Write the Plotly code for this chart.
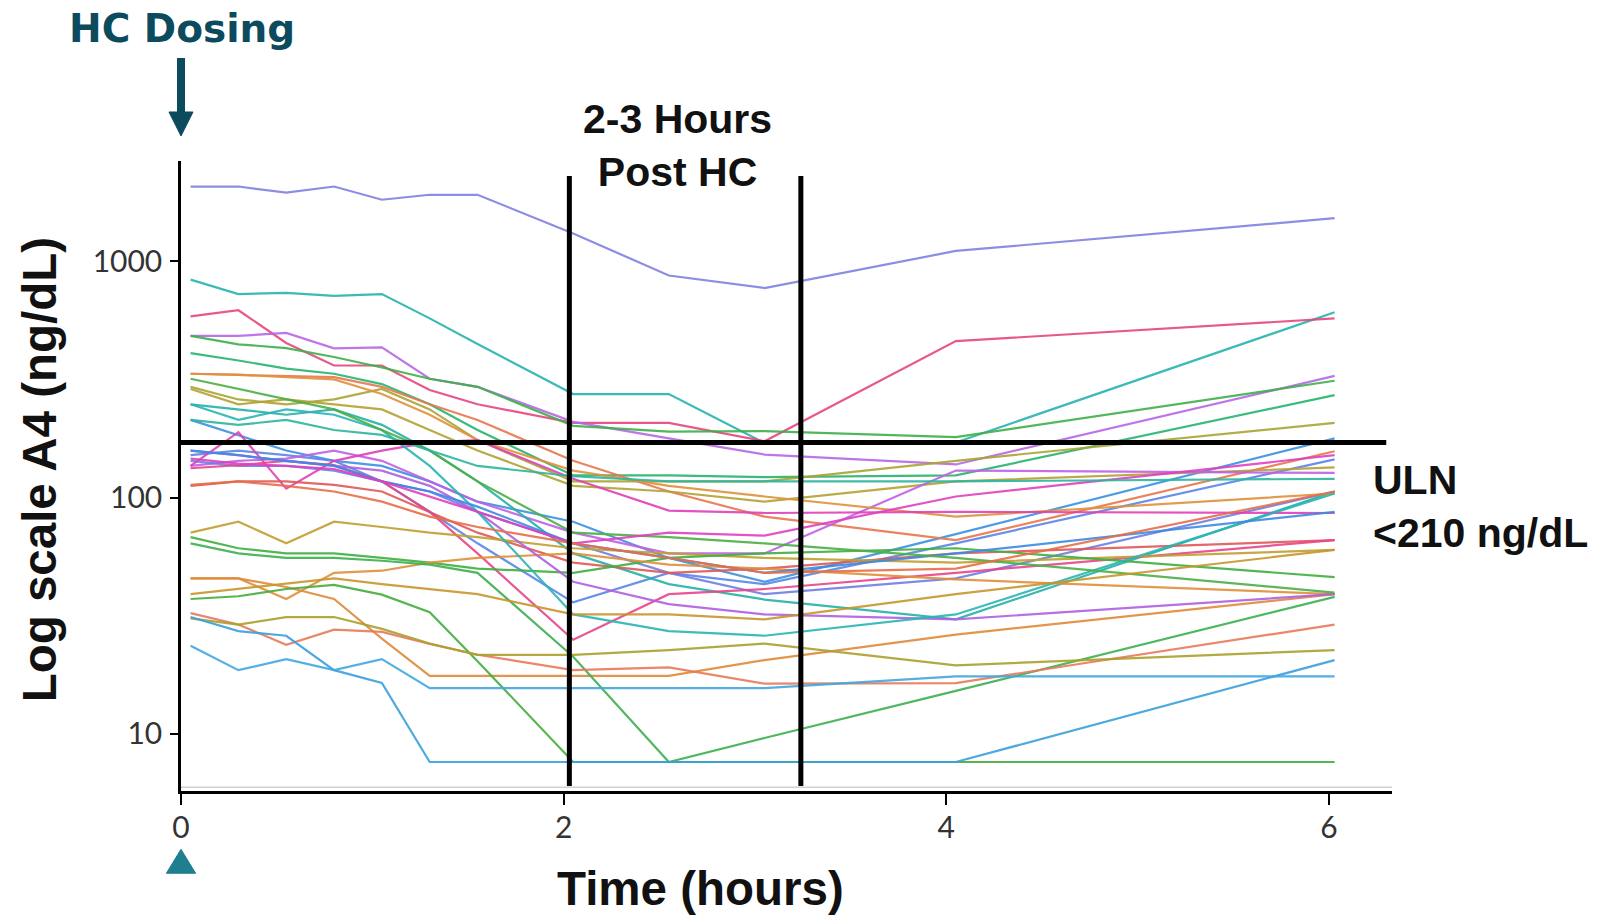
import plotly.graph_objects as go

# ---- data ----
times = [0.05, 0.3, 0.55, 0.8, 1.05, 1.3, 1.55, 2.05, 2.55, 3.05, 4.05, 6.03]

s01 = [2070, 2070, 1950, 2070, 1820, 1910, 1910, 1310, 870, 770, 1105, 1520]
s02 = [836, 726, 734, 713, 726, 573, 446, 274, 274, 170, 171, 608]
s03 = [584, 620, 451, 362, 362, 285, 248, 207, 207, 173, 459, 573]
s04 = [483, 483, 497, 428, 432, 318, 294, 209, 178, 152, 138, 327]
s05 = [483, 445, 429, 393, 355, 318, 294, 201, 190, 191, 180, 312]
s06 = [408, 380, 351, 334, 302, 248, 193, 124, 124, 122, 124, 271]
s07 = [294, 260, 248, 260, 288, 236, 175, 117, 117, 117, 143, 207]
s08 = [213, 184, 158, 143, 136, 117, 96, 79, 55.5, 44, 70, 178]
s09 = [334, 331, 328, 323, 294, 248, 213, 143, 106, 83, 66, 157]
s10 = [151, 158, 151, 143, 117, 87, 64, 36, 48, 43, 64, 145]
s11 = [288, 248, 260, 248, 236, 193, 158, 112, 106, 96, 117, 134]
s12 = [136, 143, 146, 158, 143, 117, 96, 71, 58, 58, 130, 127]
s13 = [143, 136, 136, 130, 117, 106, 87, 64, 48, 39, 45.5, 106]
s14 = [248, 236, 224, 236, 203, 158, 117, 58, 43, 37, 30.5, 106]
s15 = [334, 331, 323, 316, 274, 224, 175, 130, 112, 101, 83, 104]
s16 = [136, 189, 109, 143, 158, 171, 175, 120, 88, 86, 87, 86]
s17 = [112, 117, 117, 113, 106, 87, 71, 53, 48, 50, 58, 66]
s18 = [133, 137, 143, 137, 117, 87, 58, 25, 39, 41, 48, 66]
s19 = [71, 79, 64, 79, 75, 71, 68, 61, 58, 55.5, 53, 60]
s20 = [68, 61, 58, 58, 55.5, 53, 50, 48, 55.5, 58, 61, 46]
s21 = [45.5, 45.5, 37.2, 48, 49, 53, 55.5, 58, 52, 50, 45, 39]
s22 = [45.5, 45.5, 41.8, 37.2, 25.3, 17.6, 17.6, 17.6, 17.6, 20.5, 26.3, 39]
s23 = [37.2, 38.2, 41, 42.7, 38.8, 32.7, 20.3, 7.6, 7.6, 7.6, 7.6, 7.6]
s24 = [64, 58, 55.5, 55.5, 54, 52, 48, 21.2, 7.6, 9.6, 15.2, 38]
s25 = [32.4, 29, 23.8, 27.6, 27, 24, 21.6, 18.6, 19.1, 16.3, 16.4, 29]
s26 = [30.8, 29, 31.2, 31.2, 27.8, 24.1, 21.6, 21.6, 22.6, 24.1, 19.5, 22.6]
s27 = [31.2, 27.2, 26, 18.6, 16.4, 7.6, 7.6, 7.6, 7.6, 7.6, 7.6, 20.5]
s28 = [23.6, 18.6, 20.7, 18.6, 20.7, 15.6, 15.6, 15.6, 15.6, 15.6, 17.5, 17.5]
s29 = [158, 151, 143, 136, 130, 112, 87, 44, 35.4, 32, 30.5, 39]
s30 = [248, 213, 236, 224, 193, 136, 87, 32, 27.2, 26, 32, 104]
s31 = [158, 151, 143, 136, 117, 106, 91.5, 64, 55.5, 48, 58, 87]
s32 = [318, 288, 260, 236, 193, 158, 117, 71, 68, 64, 55.5, 39.6]
s33 = [146, 139, 136, 132, 117, 101, 87, 64, 71, 69, 101, 151]
s34 = [39, 41, 43, 45.5, 43, 41, 39, 32, 32, 30.5, 39, 60]
s35 = [113, 117, 112, 106, 96, 83, 75, 64, 55.5, 48, 50, 106]
s36 = [213, 203, 213, 193, 184, 158, 136, 123, 117, 117, 117, 120]

series = [s01, s02, s03, s04, s05, s06, s07, s08, s09, s10, s11, s12,
          s13, s14, s15, s16, s17, s18, s19, s20, s21, s22, s23, s24,
          s25, s26, s27, s28, s29, s30, s31, s32, s33, s34, s35, s36]

colors = ["#8181e0", "#26b3b0", "#e6477f", "#b767e6", "#3fb04a", "#28b46e",
          "#a9a534", "#3a92e0", "#e8774e", "#5a86e8", "#b3a233", "#c060e6",
          "#6f7fe6", "#24b2a8", "#e0923c", "#e040b8", "#e05858", "#e8458a",
          "#c0a030", "#40b040", "#e0903a", "#e08a3a", "#45ae3c", "#3cb050",
          "#e87a5a", "#aaa02e", "#3aa0dc", "#40a8e0", "#b060e0", "#2ab5b5",
          "#3d8be0", "#4caf45", "#e040c0", "#c8962e", "#e86e48", "#2db5a0"]

x_ticks = [0, 2, 4, 6]
y_ticks = [10, 100, 1000]
y_ticktext = ["10", "100", "1000"]

uln_value = 171          # drawn position of the ULN line
window_start = 2.03      # 2-3 hours window
window_end = 3.24

fig = go.Figure()
for vals, col in zip(series, colors):
    fig.add_trace(go.Scatter(x=times, y=vals, mode="lines",
                             line=dict(color=col, width=2.2),
                             opacity=0.9, showlegend=False, hoverinfo="skip"))

# light baseline just above axis
fig.add_shape(type="line", xref="paper", yref="paper", x0=0, x1=1, y0=0.006, y1=0.006,
              line=dict(color="#cfcfcf", width=1.5))
# ULN horizontal line
fig.add_shape(type="line", xref="x", yref="y", x0=0, x1=6.30, y0=uln_value, y1=uln_value,
              line=dict(color="black", width=5))
# window vertical lines
for xv in (window_start, window_end):
    fig.add_shape(type="line", xref="x", yref="paper", x0=xv, x1=xv, y0=0.008, y1=0.976,
                  line=dict(color="black", width=5))

# HC dosing arrow (shaft + head)
fig.add_shape(type="line", xref="paper", yref="paper", x0=0.0, x1=0.0, y0=1.1635, y1=1.07,
              line=dict(color="#0c4a5e", width=8))
fig.add_shape(type="path", xref="paper", yref="paper",
              path="M -0.0099,1.0778 L 0.0099,1.0778 L 0,1.0397 Z",
              fillcolor="#0c4a5e", line=dict(color="#0c4a5e", width=1))
# teal triangle under 0
fig.add_shape(type="path", xref="paper", yref="paper",
              path="M -0.0121,-0.1306 L 0.0121,-0.1306 L 0,-0.0925 Z",
              fillcolor="#1f7f91", line=dict(color="#1f7f91", width=1))

bold = dict(family="Liberation Sans", color="#111111")
fig.add_annotation(xref="paper", yref="paper", x=0.410, y=1.024,
                   text="<b>2-3 Hours<br>Post HC</b>", showarrow=False,
                   font=dict(size=41, **bold), xanchor="center", yanchor="middle")
fig.add_annotation(xref="paper", yref="paper", x=0.983, y=0.451,
                   text="<b>ULN<br><210 ng/dL</b>", showarrow=False, align="left",
                   font=dict(size=41, **bold), xanchor="left", yanchor="middle")
fig.add_annotation(xref="paper", yref="paper", x=0.0008, y=1.211,
                   text="<b>HC Dosing</b>", showarrow=False,
                   font=dict(size=39, family="DejaVu Sans", color="#0c4a5e"),
                   xanchor="center", yanchor="middle")
fig.add_annotation(xref="paper", yref="paper", x=-0.117, y=0.5095,
                   text="<b>Log scale A4 (ng/dL)</b>", showarrow=False, textangle=-90,
                   font=dict(size=47.5, **bold), xanchor="center", yanchor="middle")
fig.add_annotation(xref="paper", yref="paper", x=0.429, y=-0.154,
                   text="<b>Time (hours)</b>", showarrow=False,
                   font=dict(size=47.5, **bold), xanchor="center", yanchor="middle")

tickfont = dict(family="Lato", size=30, color="#333333")
fig.update_layout(
    width=1605, height=917, autosize=False,
    margin=dict(l=181, r=213, t=161, b=126),
    paper_bgcolor="white", plot_bgcolor="white",
    xaxis=dict(range=[0, 6.33], tickvals=x_ticks, ticks="outside", ticklen=11,
               tickwidth=2, tickcolor="black", showline=True, linecolor="black",
               linewidth=2.5, showgrid=False, zeroline=False, tickfont=tickfont,
               ticklabelstandoff=-3),
    yaxis=dict(type="log", range=[0.758, 3.424], tickvals=y_ticks, ticktext=y_ticktext,
               ticks="outside", ticklen=8, tickwidth=2, tickcolor="black",
               showline=True, linecolor="black", linewidth=2.5, showgrid=False,
               zeroline=False, tickfont=tickfont, ticklabelstandoff=2),
)

fig.write_html("out.html", config={"displayModeBar": False},
               post_script="document.body.style.margin='0';")
